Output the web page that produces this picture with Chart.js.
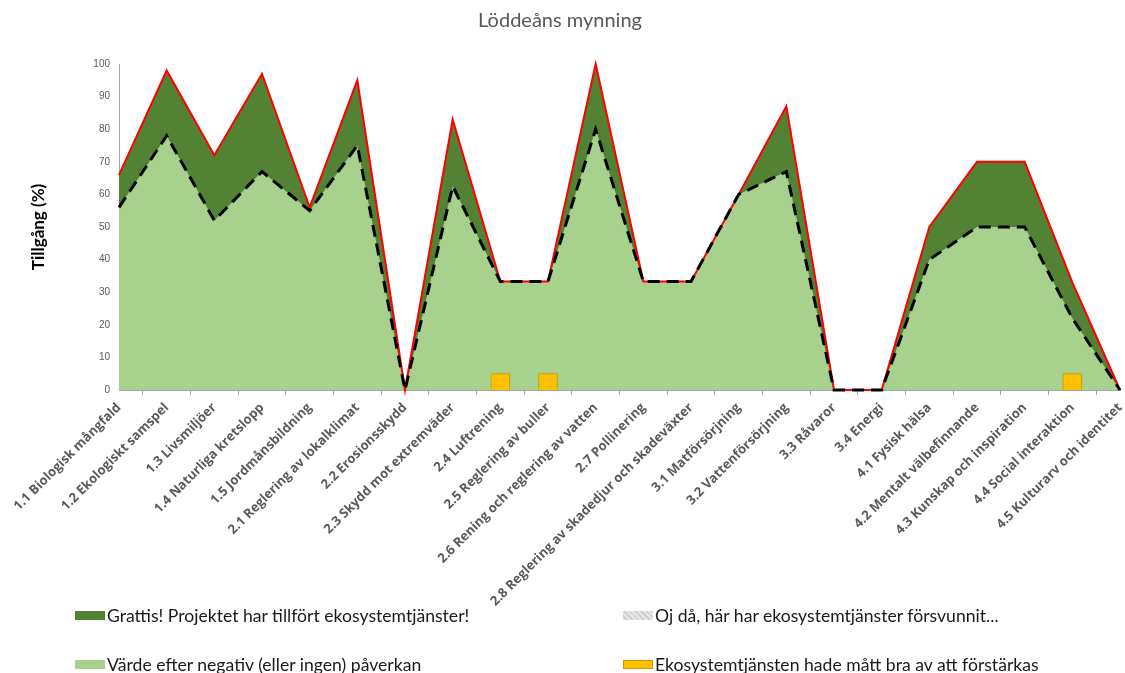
<!DOCTYPE html>
<html>
<head>
<meta charset="utf-8">
<script src="https://cdn.jsdelivr.net/npm/chart.js@4/dist/chart.umd.min.js"></script>
<style>
  html, body { margin:0; padding:0; background:#fff; }
  #wrap { position:relative; width:1125px; height:673px; }
  canvas { position:absolute; left:0; top:0; }
  .lg { position:absolute; height:24px; display:flex; align-items:center; font-family:Lato,"Liberation Sans",sans-serif; font-size:17.6px; color:#1a1a1a; white-space:nowrap; }
  .lg .box { width:30px; height:9px; margin-right:2px; box-sizing:border-box; }
</style>
</head>
<body>
<div id="wrap">
  <canvas id="c" width="1125" height="673"></canvas>
  <div class="lg" style="left:75px; top:603px;"><span class="box" style="background:#548235"></span>Grattis! Projektet har tillfört ekosystemtjänster!</div>
  <div class="lg" style="left:623px; top:603px;"><span class="box" style="background:repeating-linear-gradient(45deg,#e6e6e6 0 2px,#cfcfcf 2px 4px)"></span>Oj då, här har ekosystemtjänster försvunnit...</div>
  <div class="lg" style="left:75px; top:652px;"><span class="box" style="background:#a9d18e"></span>Värde efter negativ (eller ingen) påverkan</div>
  <div class="lg" style="left:623px; top:652px;"><span class="box" style="background:#ffc000;border:1px solid #c99a00"></span>Ekosystemtjänsten hade mått bra av att förstärkas</div>
</div>
<script>
const chartTitle = "Löddeåns mynning";
const yAxisTitle = "Tillgång (%)";
const categories = [
  "1.1 Biologisk mångfald","1.2 Ekologiskt samspel","1.3 Livsmiljöer","1.4 Naturliga kretslopp",
  "1.5 Jordmånsbildning","2.1 Reglering av lokalklimat","2.2 Erosionsskydd","2.3 Skydd mot extremväder",
  "2.4 Luftrening","2.5 Reglering av buller","2.6 Rening och reglering av vatten","2.7 Pollinering",
  "2.8 Reglering av skadedjur och skadeväxter","3.1 Matförsörjning","3.2 Vattenförsörjning","3.3 Råvaror",
  "3.4 Energi","4.1 Fysisk hälsa","4.2 Mentalt välbefinnande","4.3 Kunskap och inspiration",
  "4.4 Social interaktion","4.5 Kulturarv och identitet"
];
const afterValues  = [66, 98, 72, 97, 56, 95, 0, 83, 33.3, 33.3, 100, 33.3, 33.3, 60, 87, 0, 0, 50, 70, 70, 33, 0];
const beforeValues = [56, 78, 52, 67, 55, 75, 0, 62.5, 33.3, 33.3, 80, 33.3, 33.3, 60, 67, 0, 0, 40, 50, 50, 22, 0];
const strengthenValues = [null,null,null,null,null,null,null,null,5,5,null,null,null,null,null,null,null,null,null,null,5,null];
const yTicks = [0,10,20,30,40,50,60,70,80,90,100];

new Chart(document.getElementById('c'), {
  type: 'line',
  data: {
    labels: categories,
    datasets: [
      { type:'bar', label:'Ekosystemtjänsten hade mått bra av att förstärkas', data: strengthenValues,
        backgroundColor:'#ffc000', borderColor:'#c99a00', borderWidth:1, barThickness:19, order:1 },
      { label:'Värde efter negativ (eller ingen) påverkan', data: beforeValues,
        borderColor:'#000000', borderWidth:3, borderDash:[12,7], backgroundColor:'#a9d18e',
        fill:'origin', pointRadius:0, tension:0, order:2, clip:false },
      { label:'Grattis! Projektet har tillfört ekosystemtjänster!', data: afterValues,
        borderColor:'#ff0000', borderWidth:2, backgroundColor:'#548235',
        fill:'origin', pointRadius:0, tension:0, order:3, clip:false }
    ]
  },
  options: {
    responsive:false, animation:false,
    layout: { padding: { left:0, right:5, top:0, bottom:0 } },
    plugins: {
      legend: { display:false },
      tooltip: { enabled:false },
      filler: { drawTime:'beforeDatasetsDraw' },
      title: { display:true, text:chartTitle, color:'#595959',
        font:{ family:'Lato, sans-serif', size:20, weight:'normal' },
        padding:{ top:9, bottom:31 } }
    },
    scales: {
      x: {
        offset:false,
        grid:{ display:true, drawOnChartArea:false, drawTicks:true, tickLength:5, color:'#a6a6a6' },
        border:{ display:true, color:'#a6a6a6', width:1 },
        ticks:{ autoSkip:false, minRotation:45, maxRotation:45, padding:5, color:'#595959',
          font:{ family:'"Open Sans", sans-serif', size:13, weight:'bold' } },
        afterFit: (s) => { s.height = 283; s.paddingRight = 0; s.paddingLeft = 0; }
      },
      y: {
        min:0, max:100,
        afterBuildTicks: (s) => { s.ticks = yTicks.map(v => ({ value:v })); },
        grid:{ display:false, drawTicks:false },
        border:{ display:true, color:'#a6a6a6', width:1 },
        ticks:{ color:'#595959', padding:9, font:{ family:'"Liberation Sans", sans-serif', size:10 } },
        title:{ display:true, text:yAxisTitle, color:'#000000',
          font:{ family:'Lato, sans-serif', size:17, weight:'bold' }, padding:{ top:28, bottom:0 } },
        afterFit: (s) => { s.width = 119; }
      }
    }
  }
});
</script>
</body>
</html>
